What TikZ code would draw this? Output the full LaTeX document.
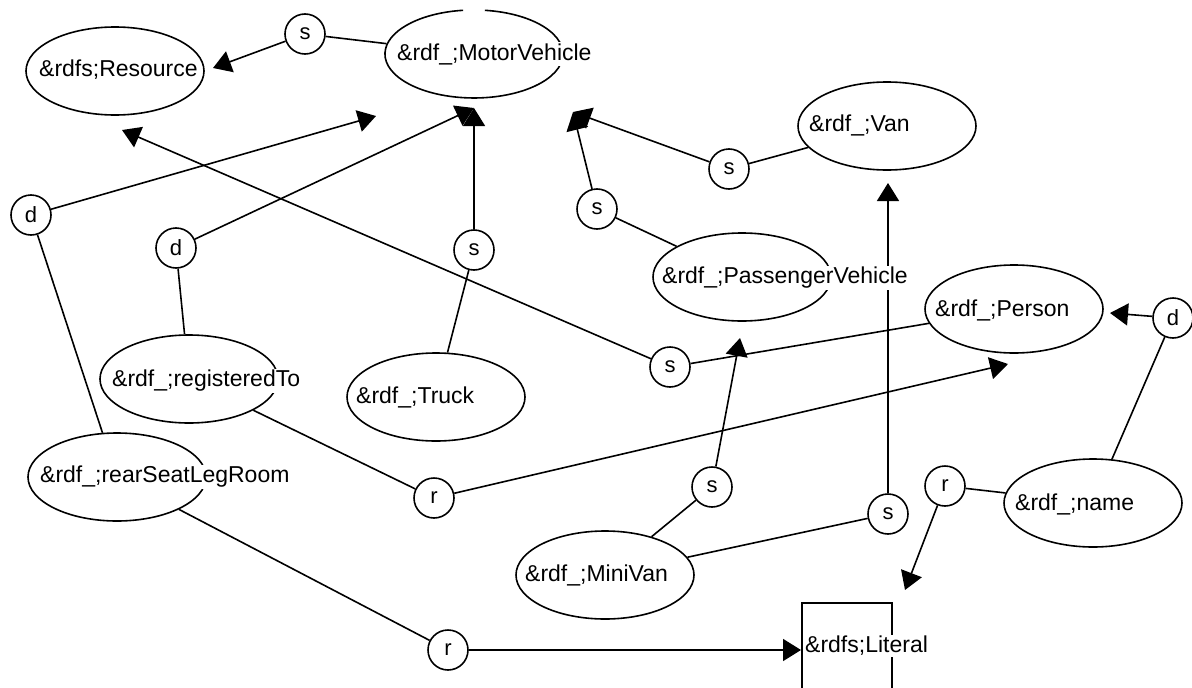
\documentclass[tikz,border=0pt]{standalone}
\usepackage{fontspec}
\setmainfont{Liberation Sans}
\usetikzlibrary{arrows.meta,shapes.geometric}
\begin{document}
\begin{tikzpicture}[x=1pt,y=-1pt,
  cls/.style={draw,ellipse,line width=1.6pt,minimum width=178pt,minimum height=88pt,inner sep=0pt},
  lbl/.style={anchor=west,fill=white,inner sep=1pt,font=\fontsize{23}{26}\selectfont},
  dot/.style={draw,circle,line width=1.6pt,minimum size=40pt,inner sep=0pt,font=\fontsize{22}{24}\selectfont},
  con/.style={line width=1.6pt},
  arr/.style={line width=1.6pt,-{Triangle[length=18pt,width=22pt]}}]
\useasboundingbox (0,0) rectangle (1192,688);
\clip (0,0) rectangle (1192,688);
\fill[white] (0,0) rectangle (1192,688);
% class ellipses
\node[cls] (res) at (115,71) {};
\node[cls,draw=none] (mv) at (474,54) {};
\draw[con] (484.8,10.3) arc[start angle=277,end angle=623,x radius=89,y radius=44];
\node[cls] (van) at (887,126) {};
\node[cls] (pv) at (742,277) {};
\node[cls] (per) at (1014,309) {};
\node[cls] (reg) at (189,379) {};
\node[cls] (trk) at (436,397) {};
\node[cls] (rear) at (117,477) {};
\node[cls] (mini) at (605,575) {};
\node[cls] (name) at (1093,503) {};
\node[draw,line width=1.6pt,minimum width=90pt,minimum height=100pt,anchor=north west,inner sep=0pt] (lit) at (801,602) {};
% small circles
\node[dot] (s1) at (305,34) {s};
\node[dot] (d1) at (31,215) {d};
\node[dot] (d2) at (176,248) {d};
\node[dot] (s2) at (474,250) {s};
\node[dot] (s3) at (597,209) {s};
\node[dot] (s4) at (729,169) {s};
\node[dot] (s5) at (670,367) {s};
\node[dot] (s7) at (712,487) {s};
\node[dot] (s6) at (888,514) {s};
\node[dot] (r1) at (434,498) {r};
\node[dot] (r2) at (448,650) {r};
\node[dot] (r3) at (945,486) {r};
\node[dot] (d3) at (1173,318) {d};
% free arrow tips
\coordinate (tR1) at (213,68);
\coordinate (tMV1) at (376,116);
\coordinate (tMV2) at (474,108);
\coordinate (tR2) at (122,130);
\coordinate (tMV3) at (573,112);
\coordinate (tVan) at (888,183);
\coordinate (tPV) at (740,338);
\coordinate (tP1) at (1008,364);
\coordinate (tP2) at (1110,313);
\coordinate (tL) at (905,590);
% plain connectors
\draw[con] (s1) -- (mv);
\draw[con] (s3) -- (pv);
\draw[con] (s4) -- (van);
\draw[con] (d2) -- (reg);
\draw[con] (s2) -- (trk);
\draw[con] (d1) -- (rear);
\draw[con] (reg) -- (r1);
\draw[con] (rear) -- (r2);
\draw[con] (s5) -- (per);
\draw[con] (mini) -- (s7);
\draw[con] (mini) -- (s6);
\draw[con] (d3) -- (name);
\draw[con] (r3) -- (name);
% arrows
\draw[arr] (s1) -- (tR1);
\draw[arr] (d1) -- (tMV1);
\draw[arr] (d2) -- (tMV2);
\draw[arr] (s2) -- (tMV2);
\draw[arr] (s5) -- (tR2);
\draw[arr] (s3) -- (tMV3);
\draw[arr] (s4) -- (tMV3);
\draw[arr] (s6) -- (tVan);
\draw[arr] (s7) -- (tPV);
\draw[arr] (r1) -- (tP1);
\draw[arr] (d3) -- (tP2);
\draw[arr] (r3) -- (tL);
\draw[arr] (r2) -- (r2 -| lit.west);
% labels
\node[lbl] (tres) at (38,70) {\&rdfs;Resource};
\node[lbl] (tmv) at (396,54) {\&rdf\_;MotorVehicle};
\node[lbl] (tvan) at (808,125) {\&rdf\_;Van};
\node[lbl] (tpv) at (661,278) {\&rdf\_;PassengerVehicle};
\node[lbl] (tper) at (934,310) {\&rdf\_;Person};
\node[lbl] (treg) at (111,381) {\&rdf\_;registeredTo};
\node[lbl] (ttrk) at (355,397) {\&rdf\_;Truck};
\node[lbl] (trear) at (39,477) {\&rdf\_;rearSeatLegRoom};
\node[lbl] (tmini) at (524,575) {\&rdf\_;MiniVan};
\node[lbl] (tname) at (1014,504) {\&rdf\_;name};
\node[lbl] (tlit) at (804,646) {\&rdfs;Literal};
\end{tikzpicture}
\end{document}
